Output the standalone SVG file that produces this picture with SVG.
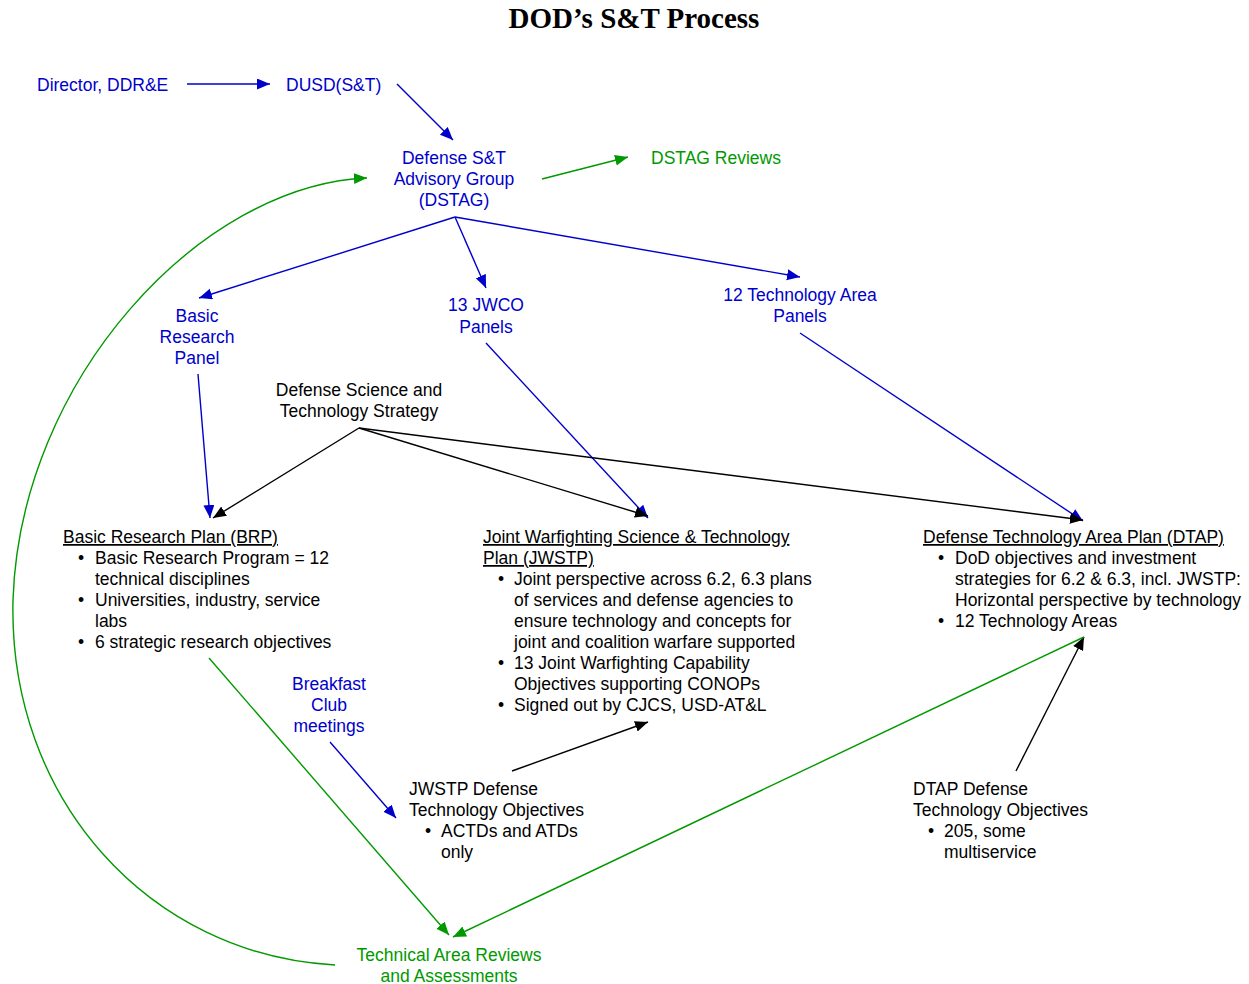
<svg xmlns="http://www.w3.org/2000/svg" width="1249" height="984" viewBox="0 0 1249 984">
<style>
text{font-family:"Liberation Sans",Arial,sans-serif;font-size:17.5px}
.b{fill:#0000cc}
.g{fill:#009900}
.k{fill:#000}
.mid{text-anchor:middle}
.u{text-decoration:underline}
.title{font-family:"Liberation Serif","Times New Roman",serif;font-size:29px;font-weight:bold;text-anchor:middle}
.lb{stroke:#0000cc;stroke-width:1.4;fill:none;marker-end:url(#ab)}
.lg{stroke:#009900;stroke-width:1.4;fill:none;marker-end:url(#ag)}
.lk{stroke:#000;stroke-width:1.4;fill:none;marker-end:url(#ak)}
</style>
<defs>
<marker id="ab" markerUnits="userSpaceOnUse" markerWidth="15" markerHeight="12" refX="13" refY="5.5" orient="auto"><path d="M0,0 L13,5.5 L0,11 z" fill="#0000cc"/></marker>
<marker id="ag" markerUnits="userSpaceOnUse" markerWidth="15" markerHeight="12" refX="13" refY="5.5" orient="auto"><path d="M0,0 L13,5.5 L0,11 z" fill="#009900"/></marker>
<marker id="ak" markerUnits="userSpaceOnUse" markerWidth="15" markerHeight="12" refX="13" refY="5.5" orient="auto"><path d="M0,0 L13,5.5 L0,11 z" fill="#000"/></marker>
</defs>
<rect width="1249" height="984" fill="#fff"/>
<text class="title" x="634" y="28">DOD’s S&amp;T Process</text>

<g id="connectors">
<line class="lb" x1="187" y1="84" x2="270" y2="84"/>
<line class="lb" x1="397" y1="84" x2="453" y2="140"/>
<line class="lg" x1="542" y1="179" x2="628" y2="157"/>
<line class="lb" x1="455" y1="217" x2="199" y2="298"/>
<line class="lb" x1="455" y1="217" x2="486" y2="288"/>
<line class="lb" x1="455" y1="217" x2="800" y2="277"/>
<line class="lb" x1="198" y1="374" x2="210" y2="518"/>
<line class="lb" x1="486" y1="343" x2="648" y2="518"/>
<line class="lb" x1="800" y1="333" x2="1083" y2="521"/>
<line class="lk" x1="359" y1="428" x2="213" y2="518"/>
<line class="lk" x1="359" y1="428" x2="648" y2="516"/>
<line class="lk" x1="359" y1="428" x2="1083" y2="520"/>
<line class="lb" x1="330" y1="742" x2="396" y2="818"/>
<line class="lk" x1="512" y1="771" x2="648" y2="722"/>
<line class="lk" x1="1016" y1="771" x2="1084" y2="637"/>
<line class="lg" x1="209" y1="658" x2="449" y2="935"/>
<line class="lg" x1="1084" y1="637" x2="453" y2="937"/>
<path class="lg" d="M335,965 C150,955 8,800 13,600 C20,380 200,185 367,178"/>
</g>

<g id="director"><text class="b" x="37" y="91">Director, DDR&amp;E</text></g>
<g id="dusd"><text class="b" x="286" y="91">DUSD(S&amp;T)</text></g>
<g id="dstag"><text class="b mid" x="454" y="164">Defense S&amp;T</text><text class="b mid" x="454" y="185">Advisory Group</text><text class="b mid" x="454" y="206">(DSTAG)</text></g>
<g id="dstag-reviews"><text class="g" x="651" y="164">DSTAG Reviews</text></g>
<g id="brpanel"><text class="b mid" x="197" y="322">Basic</text><text class="b mid" x="197" y="343">Research</text><text class="b mid" x="197" y="364">Panel</text></g>
<g id="jwco"><text class="b mid" x="486" y="311">13 JWCO</text><text class="b mid" x="486" y="333">Panels</text></g>
<g id="tapanels"><text class="b mid" x="800" y="301">12 Technology Area</text><text class="b mid" x="800" y="322">Panels</text></g>
<g id="dsts"><text class="k mid" x="359" y="396">Defense Science and</text><text class="k mid" x="359" y="417">Technology Strategy</text></g>
<g id="brp">
<text class="k u" x="63" y="543">Basic Research Plan (BRP)</text>
<text class="k" x="78" y="564">•</text><text class="k" x="95" y="564">Basic Research Program = 12</text>
<text class="k" x="95" y="585">technical disciplines</text>
<text class="k" x="78" y="606">•</text><text class="k" x="95" y="606">Universities, industry, service</text>
<text class="k" x="95" y="627">labs</text>
<text class="k" x="78" y="648">•</text><text class="k" x="95" y="648">6 strategic research objectives</text>
</g>
<g id="jwstp">
<text class="k u" x="483" y="543">Joint Warfighting Science &amp; Technology</text>
<text class="k u" x="483" y="564">Plan (JWSTP)</text>
<text class="k" x="498" y="585">•</text><text class="k" x="514" y="585">Joint perspective across 6.2, 6.3 plans</text>
<text class="k" x="514" y="606">of services and defense agencies to</text>
<text class="k" x="514" y="627">ensure technology and concepts for</text>
<text class="k" x="514" y="648">joint and coalition warfare supported</text>
<text class="k" x="498" y="669">•</text><text class="k" x="514" y="669">13 Joint Warfighting Capability</text>
<text class="k" x="514" y="690">Objectives supporting CONOPs</text>
<text class="k" x="498" y="711">•</text><text class="k" x="514" y="711">Signed out by CJCS, USD-AT&amp;L</text>
</g>
<g id="dtap">
<text class="k u" x="923" y="543">Defense Technology Area Plan (DTAP)</text>
<text class="k" x="938" y="564">•</text><text class="k" x="955" y="564">DoD objectives and investment</text>
<text class="k" x="955" y="585">strategies for 6.2 &amp; 6.3, incl. JWSTP:</text>
<text class="k" x="955" y="606">Horizontal perspective by technology</text>
<text class="k" x="938" y="627">•</text><text class="k" x="955" y="627">12 Technology Areas</text>
</g>
<g id="breakfast"><text class="b mid" x="329" y="690">Breakfast</text><text class="b mid" x="329" y="711">Club</text><text class="b mid" x="329" y="732">meetings</text></g>
<g id="jwstp-dto">
<text class="k" x="409" y="795">JWSTP Defense</text>
<text class="k" x="409" y="816">Technology Objectives</text>
<text class="k" x="425" y="837">•</text><text class="k" x="441" y="837">ACTDs and ATDs</text>
<text class="k" x="441" y="858">only</text>
</g>
<g id="dtap-dto">
<text class="k" x="913" y="795">DTAP Defense</text>
<text class="k" x="913" y="816">Technology Objectives</text>
<text class="k" x="928" y="837">•</text><text class="k" x="944" y="837">205, some</text>
<text class="k" x="944" y="858">multiservice</text>
</g>
<g id="tara"><text class="g mid" x="449" y="961">Technical Area Reviews</text><text class="g mid" x="449" y="982">and Assessments</text></g>
</svg>
